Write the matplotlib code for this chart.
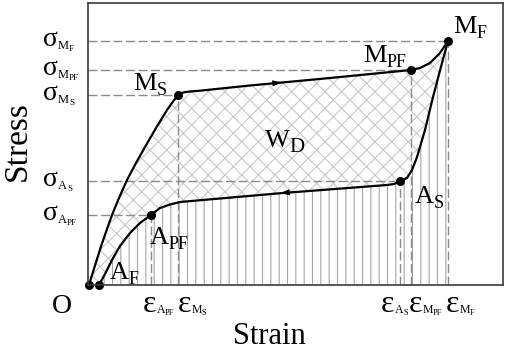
import matplotlib
matplotlib.use("Agg")
import matplotlib.pyplot as plt
from matplotlib.patches import Polygon

plt.rcParams['font.family'] = ['Liberation Serif', 'DejaVu Serif']
plt.rcParams['hatch.linewidth'] = 0.8

# ---- data (schematic units: strain, stress) ----
load_strain = [1, 7, 13, 18.5, 24, 31, 39, 48, 57, 68, 79, 85, 90, 93, 97, 103, 110, 162, 242, 323, 332, 342, 352, 360]
load_stress = [0, 19.5, 38.5, 54.5, 70, 87, 105, 122, 138, 157, 175, 183.5, 190, 191.8, 192.9, 193.6, 194.1, 199.5, 207, 215, 217, 222, 232, 244]

unload_strain = [360, 354, 345, 337, 329, 324, 319, 312, 306, 299, 195, 92, 82, 72, 63, 52, 42, 32, 24, 17, 11]
unload_stress = [244, 222, 188, 155, 128, 115, 107, 104, 101, 100, 92, 83, 80.5, 77, 70, 62, 52, 39, 25, 11, 0]

pt_names = ['O', 'A_F', 'A_PF', 'M_S', 'M_PF', 'M_F', 'A_S']
pt_strain = [1, 11, 63, 90, 323, 360, 312]
pt_stress = [0, 0, 70, 190, 215, 244, 104]

# guide lines (strain, stress) for the characteristic points
guide_strain = [63, 90, 323, 360, 312]
guide_stress = [70, 190, 215, 244, 104]

# stress axis labels: (main, sub1, sub2), level
sig_subs = [('M', 'F'), ('M', 'PF'), ('M', 'S'), ('A', 'S'), ('A', 'PF')]
sig_levels = [244, 215, 190, 104, 70]
# strain axis labels
eps_subs = [('A', 'PF'), ('M', 'S'), ('A', 'S'), ('M', 'PF'), ('M', 'F')]
eps_levels = [55, 90, 293, 321, 358]

# point labels: (main, sub), anchor
lab_text = [('M', 'S'), ('M', 'PF'), ('M', 'F'), ('A', 'S'), ('A', 'PF'), ('A', 'F'), ('W', 'D')]
lab_x = [45, 275, 365, 327, 62, 22, 177]
lab_y = [195, 223, 252, 82, 41, 6, 138]

XMAX, YMAX = 415, 282

fig = plt.figure(figsize=(5.05, 3.53), dpi=100)
ax = fig.add_axes([88/505, 68/353, 415/505, 282/353])
ax.set_xlim(0, XMAX)
ax.set_ylim(0, YMAX)
ax.set_xticks([])
ax.set_yticks([])
for s in ax.spines.values():
    s.set_color('#3a3a3a')
    s.set_linewidth(1.2)
    s.set_zorder(6)

# cross-hatched dissipated energy region
loop = list(zip(load_strain, load_stress)) + list(zip(unload_strain, unload_stress))
ax.add_patch(Polygon(loop, closed=True, facecolor='none', edgecolor='#c8c8c8',
                     hatch='xx', linewidth=0, zorder=1))
# vertically hatched region under unloading curve
under = list(zip(unload_strain, unload_stress)) + [(unload_strain[0], 0)]
ax.add_patch(Polygon(under, closed=True, facecolor='none', edgecolor='#a6a6a6',
                     hatch='||', linewidth=0, zorder=1))

# dashed guides
for gx, gy in zip(guide_strain, guide_stress):
    ax.plot([0, gx], [gy, gy], color='#8a8a8a', lw=1.0, dashes=(6.5, 2.5), zorder=2)
    ax.plot([gx, gx], [0, gy], color='#8a8a8a', lw=1.0, dashes=(6.5, 2.5), zorder=2)

# curves
ax.plot(load_strain, load_stress, color='black', lw=1.6, zorder=4,
        solid_capstyle='round', solid_joinstyle='round')
ax.plot(unload_strain, unload_stress, color='black', lw=1.6, zorder=4,
        solid_capstyle='round', solid_joinstyle='round')
ax.plot(pt_strain, pt_stress, 'o', color='black', ms=5.5, zorder=5, clip_on=False)

# direction arrows
aprops = dict(arrowstyle='-|>,head_length=0.7,head_width=0.22', color='black', lw=0,
              shrinkA=0, shrinkB=0, mutation_scale=10)
ax.annotate('', xy=(194, 202.6), xytext=(182, 201.4), arrowprops=aprops, zorder=5)
ax.annotate('', xy=(192, 91.9), xytext=(204, 92.9), arrowprops=aprops, zorder=5)

DESC = 0.216


def compound(x, y, parts, base_dy=0.0):
    txt, size, _ = parts[0]
    prev = ax.annotate(txt, xy=(x, y), xycoords='data', xytext=(0, base_dy),
                       textcoords='offset points', fontsize=size, va='baseline',
                       ha='left', annotation_clip=False, zorder=7)
    psize = size
    for txt, size, drop in parts[1:]:
        prev = ax.annotate(txt, xy=(1, 0), xycoords=prev, xytext=(0, DESC * psize - drop),
                           textcoords='offset points', fontsize=size, va='baseline',
                           ha='left', annotation_clip=False, zorder=7)
        psize = size
    return prev


# stress labels
for (a, b), lev in zip(sig_subs, sig_levels):
    compound(-45, lev, [('σ', 20, 0), (a, 9, 2.2), (b, 6.5, 1.5)], base_dy=-3.5)

# strain labels
for (a, b), lev in zip(eps_subs, eps_levels):
    compound(lev, -27, [('ε', 23, 0), (a, 8.5, 1.0), (b, 6, 1.0)])

# origin
ax.text(-36, -28, 'O', fontsize=20, va='baseline', ha='left', clip_on=False)

# point labels
for (a, b), lx, ly in zip(lab_text, lab_x, lab_y):
    if a == 'W':
        compound(lx, ly, [(a, 19, 0), (b, 15, 4.3)])
    else:
        compound(lx, ly, [(a, 19, 0), (b, 13, 4.3)])

fig.text(17/505, 1 - 141/353, 'Stress', rotation=90, fontsize=24, ha='center', va='center')
fig.text(269/505, 1 - 337/353, 'Strain', fontsize=22, ha='center', va='center')

fig.savefig('out.png', dpi=100)
